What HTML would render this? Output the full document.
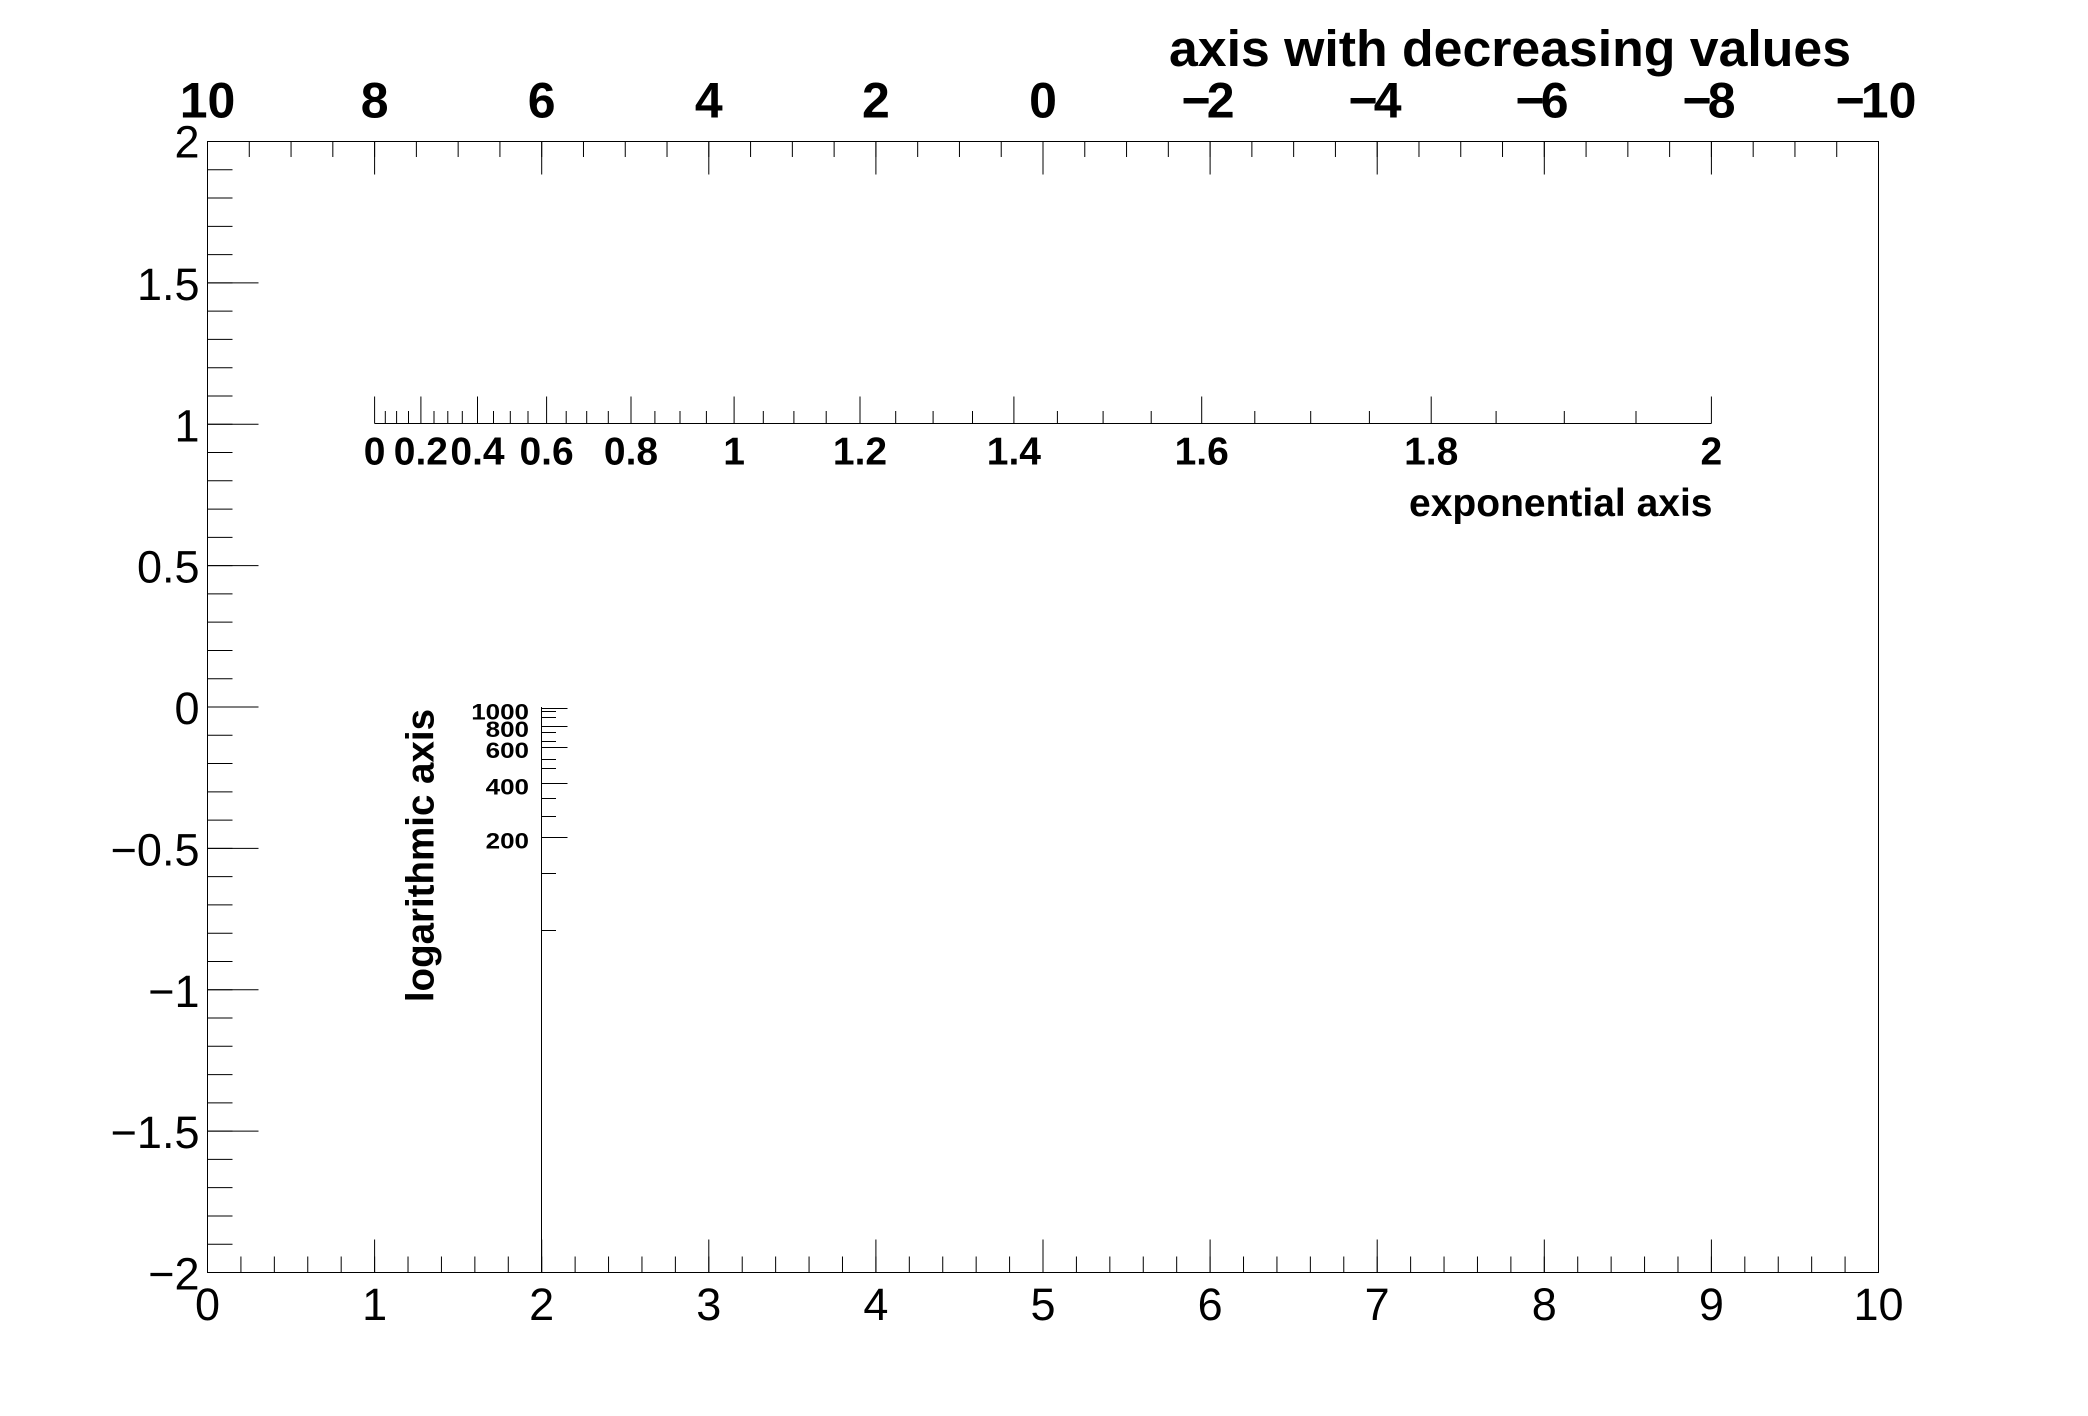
<!DOCTYPE html>
<html>
<head>
<meta charset="utf-8">
<style>
html,body{margin:0;padding:0;background:#fff;}
svg{display:block;}
text{font-family:"Liberation Sans",Arial,Helvetica,sans-serif;fill:#000;}
.b{font-weight:bold;}
</style>
</head>
<body>
<svg width="2088" height="1416" viewBox="0 0 2088 1416" xmlns="http://www.w3.org/2000/svg">
<rect x="0" y="0" width="2088" height="1416" fill="#fff"/>

<!-- frame -->
<rect x="207.5" y="141.5" width="1671" height="1131" fill="none" stroke="#000" stroke-width="1"/>

<!-- bottom axis ticks -->
<line x1="207" y1="1264.5" x2="1879" y2="1264.5" stroke="#000" stroke-width="16" stroke-dasharray="1 32.42"/>
<line x1="207" y1="1256" x2="1879" y2="1256" stroke="#000" stroke-width="33" stroke-dasharray="1 166.1"/>

<!-- left axis ticks -->
<line x1="220" y1="141" x2="220" y2="1273" stroke="#000" stroke-width="25" stroke-dasharray="1 27.275"/>
<line x1="233" y1="141" x2="233" y2="1273" stroke="#000" stroke-width="51" stroke-dasharray="1 140.375"/>

<!-- top (decreasing) axis ticks, pointing down -->
<line x1="207" y1="149.25" x2="1879" y2="149.25" stroke="#000" stroke-width="15.5" stroke-dasharray="1 40.775"/>
<line x1="207" y1="158" x2="1879" y2="158" stroke="#000" stroke-width="33" stroke-dasharray="1 166.1"/>

<!-- exponential axis -->
<path d="M374.6 423.5H1711.4" stroke="#000" stroke-width="1" fill="none"/>
<path d="M374.6 423.5v-27M420.9 423.5v-27M477.5 423.5v-27M546.6 423.5v-27M631.0 423.5v-27M734.1 423.5v-27M860.0 423.5v-27M1013.9 423.5v-27M1201.7 423.5v-27M1431.2 423.5v-27M1711.4 423.5v-27" stroke="#000" stroke-width="1" fill="none"/>
<path d="M385.3 423.5v-12.5M396.6 423.5v-12.5M408.5 423.5v-12.5M434.0 423.5v-12.5M447.8 423.5v-12.5M462.3 423.5v-12.5M493.5 423.5v-12.5M510.3 423.5v-12.5M528.0 423.5v-12.5M566.2 423.5v-12.5M586.7 423.5v-12.5M608.3 423.5v-12.5M654.9 423.5v-12.5M680.0 423.5v-12.5M706.4 423.5v-12.5M763.3 423.5v-12.5M793.9 423.5v-12.5M826.2 423.5v-12.5M895.7 423.5v-12.5M933.1 423.5v-12.5M972.5 423.5v-12.5M1057.4 423.5v-12.5M1103.1 423.5v-12.5M1151.2 423.5v-12.5M1254.8 423.5v-12.5M1310.7 423.5v-12.5M1369.4 423.5v-12.5M1496.1 423.5v-12.5M1564.3 423.5v-12.5M1636.0 423.5v-12.5" stroke="#000" stroke-width="1" fill="none"/>

<!-- logarithmic axis -->
<path d="M541.5 707V1272.5" stroke="#000" stroke-width="1" fill="none"/>
<path d="M541.5 708.5h26M541.5 726.5h26M541.5 747.5h26M541.5 783.5h26M541.5 837.5h26" stroke="#000" stroke-width="1" fill="none"/>
<path d="M541.5 711.5h14.5M541.5 717.5h14.5M541.5 732.5h14.5M541.5 741.5h14.5M541.5 759.5h14.5M541.5 768.5h14.5M541.5 798.5h14.5M541.5 816.5h14.5M541.5 873.5h14.5M541.5 930.5h14.5" stroke="#000" stroke-width="1" fill="none"/>

<!-- top axis title & labels -->
<text class="b" x="1169" y="66" font-size="51" textLength="682" lengthAdjust="spacingAndGlyphs">axis with decreasing values</text>
<g class="b" font-size="50" text-anchor="middle">
<text x="207.5" y="117.5">10</text>
<text x="374.6" y="117.5">8</text>
<text x="541.7" y="117.5">6</text>
<text x="708.8" y="117.5">4</text>
<text x="875.9" y="117.5">2</text>
<text x="1043" y="117.5">0</text>
<text x="1208" y="117.5">−<tspan dx="-4">2</tspan></text>
<text x="1375" y="117.5">−<tspan dx="-4">4</tspan></text>
<text x="1542" y="117.5">−<tspan dx="-4">6</tspan></text>
<text x="1709" y="117.5">−<tspan dx="-4">8</tspan></text>
<text x="1876" y="117.5">−<tspan dx="-4">10</tspan></text>
</g>

<!-- bottom axis labels -->
<g font-size="45" text-anchor="middle">
<text x="207.5" y="1320">0</text>
<text x="374.6" y="1320">1</text>
<text x="541.7" y="1320">2</text>
<text x="708.8" y="1320">3</text>
<text x="875.9" y="1320">4</text>
<text x="1043" y="1320">5</text>
<text x="1210.1" y="1320">6</text>
<text x="1377.2" y="1320">7</text>
<text x="1544.3" y="1320">8</text>
<text x="1711.4" y="1320">9</text>
<text x="1878.5" y="1320">10</text>
</g>

<!-- left axis labels -->
<g font-size="45" text-anchor="end">
<text x="199.5" y="157.5">2</text>
<text x="199.5" y="299.9">1.5</text>
<text x="199.5" y="441.3">1</text>
<text x="199.5" y="582.6">0.5</text>
<text x="199.5" y="724">0</text>
<text x="199.5" y="865.4">−0.5</text>
<text x="199.5" y="1006.8">−1</text>
<text x="199.5" y="1148.1">−1.5</text>
<text x="199.5" y="1289.5">−2</text>
</g>

<!-- exponential axis labels & title -->
<g class="b" font-size="39" text-anchor="middle">
<text x="374.6" y="464.5">0</text>
<text x="420.9" y="464.5">0.2</text>
<text x="477.5" y="464.5">0.4</text>
<text x="546.6" y="464.5">0.6</text>
<text x="631.0" y="464.5">0.8</text>
<text x="734.1" y="464.5">1</text>
<text x="860.0" y="464.5">1.2</text>
<text x="1013.9" y="464.5">1.4</text>
<text x="1201.7" y="464.5">1.6</text>
<text x="1431.2" y="464.5">1.8</text>
<text x="1711.4" y="464.5">2</text>
</g>
<text class="b" x="1712.5" y="516" font-size="39" text-anchor="end">exponential axis</text>

<!-- logarithmic axis labels & title -->
<g class="b" font-size="26" text-anchor="end">
<text transform="translate(529,719.5) scale(1,0.85)">1000</text>
<text transform="translate(529,737) scale(1,0.85)">800</text>
<text transform="translate(529,758) scale(1,0.85)">600</text>
<text transform="translate(529,794.5) scale(1,0.85)">400</text>
<text transform="translate(529,848.3) scale(1,0.85)">200</text>
</g>
<text class="b" font-size="38.5" text-anchor="end" transform="translate(433.5,709) rotate(-90)">logarithmic axis</text>
</svg>
</body>
</html>
